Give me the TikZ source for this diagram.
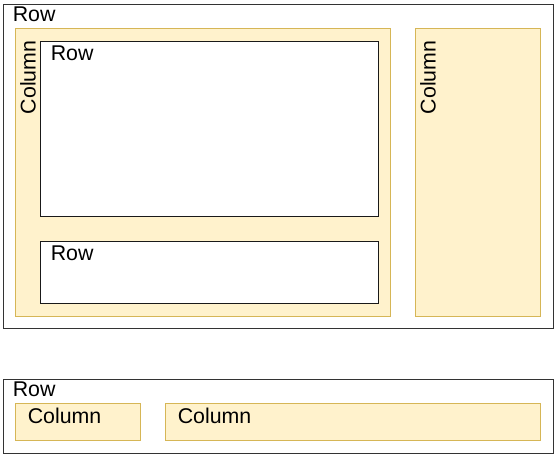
\documentclass[tikz,border=0pt]{standalone}
\usepackage{fontspec}
\setmainfont{Liberation Sans}
\begin{document}
\begin{tikzpicture}[x=0.75pt,y=-0.75pt,
  rowbox/.style={draw=black!80,line width=0.75pt,fill=white},
  colbox/.style={draw={rgb,255:red,214;green,182;blue,86},fill={rgb,255:red,255;green,242;blue,204},line width=0.75pt},
  lbl/.style={font=\fontsize{16}{19}\selectfont,inner sep=0pt,anchor=base west}]
\useasboundingbox (0,0) rectangle (558,458);
% top group
\draw[rowbox] (3,4) rectangle (553,328);
\node[lbl] (t1) at (12.5,21.5) {Row};
\draw[colbox] (15,28) rectangle (390,316);
\node[lbl,rotate=90] (t2) at (35.5,114.5) {Column};
\draw[rowbox,draw=black!90] (40,41) rectangle (378,216);
\node[lbl] (t3) at (50.5,60) {Row};
\draw[rowbox,draw=black!90] (40,241) rectangle (378,303);
\node[lbl] (t4) at (50.5,260) {Row};
\draw[colbox] (415,28) rectangle (540,316);
\node[lbl,rotate=90] (t5) at (435.5,114.5) {Column};
% bottom group
\draw[rowbox] (3,379) rectangle (553,453);
\node[lbl] (t6) at (12.5,396.5) {Row};
\draw[colbox] (15,403) rectangle (140,440);
\node[lbl] (t7) at (27.5,423) {Column};
\draw[colbox] (165,403) rectangle (540,440);
\node[lbl] (t8) at (177.5,423) {Column};
\end{tikzpicture}
\end{document}
